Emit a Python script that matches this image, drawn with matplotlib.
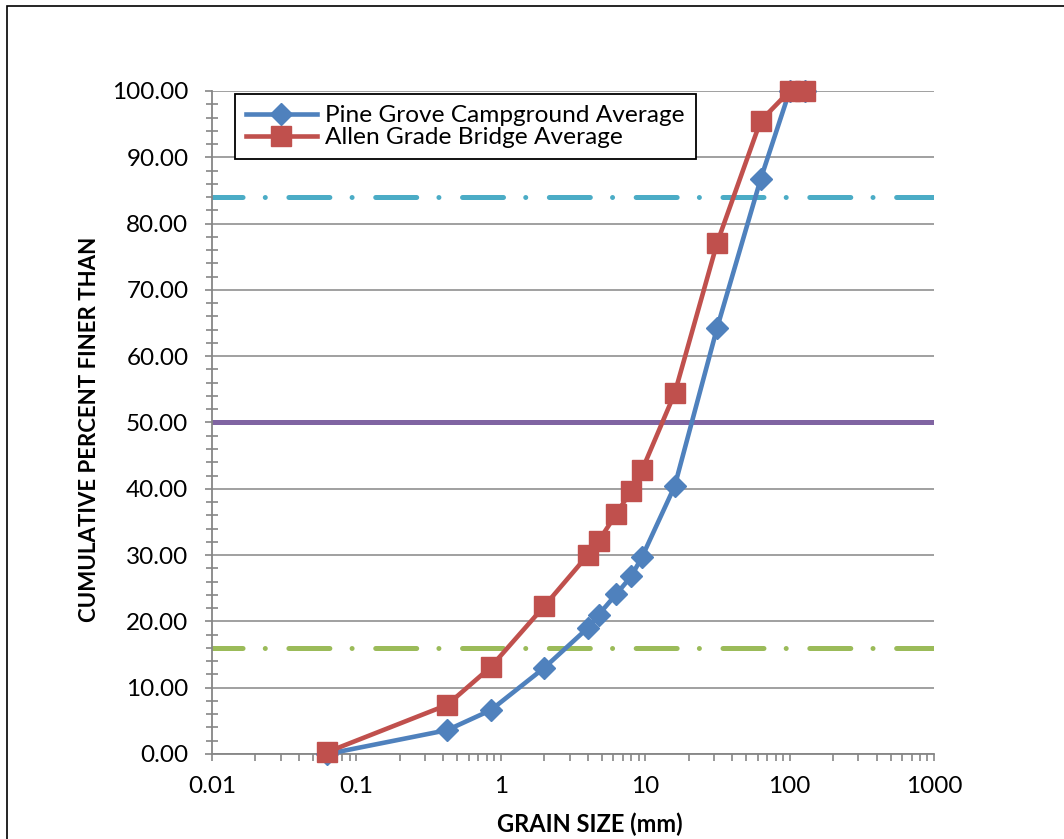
import matplotlib
matplotlib.use("Agg")
import matplotlib.pyplot as plt
from matplotlib.patches import Rectangle
from matplotlib.ticker import LogLocator, MultipleLocator

plt.rcParams['font.family'] = ['Lato', 'DejaVu Sans']
plt.rcParams['lines.scale_dashes'] = False

# sieve sizes (mm)
grain_size = [0.063, 0.425, 0.85, 2, 4, 4.75, 6.3, 8, 9.5, 16, 31.5, 63, 100, 128]
pine_grove = [0.0, 3.6, 6.6, 13.0, 19.0, 21.0, 24.1, 26.8, 29.7, 40.4, 64.3, 86.7, 100.0, 100.0]
allen_grade = [0.3, 7.4, 13.1, 22.3, 30.0, 32.1, 36.2, 39.7, 42.8, 54.4, 77.1, 95.5, 100.0, 100.0]

d84, d50, d16 = 84, 50, 16

fig = plt.figure(figsize=(10.64, 8.39), dpi=100)
ax = fig.add_axes([212 / 1064, 1 - 754 / 839, 722 / 1064, 663 / 839])

# outer chart frame
fig.add_artist(Rectangle((7 / 1064, -0.1), 1.2, 1.1 - 6 / 839, transform=fig.transFigure,
                         fill=False, edgecolor='black', linewidth=1.2))

ax.set_xscale('log')
ax.set_xlim(0.01, 1000)
ax.set_ylim(0, 100)

grid_c = '#868686'
ax.yaxis.set_major_locator(MultipleLocator(10))
ax.yaxis.set_minor_locator(MultipleLocator(2))
ax.grid(axis='y', which='major', color=grid_c, linewidth=1.1)
ax.set_axisbelow(True)

# reference lines D84 / D50 / D16
dash_dot = (7.5, (29.5, 16, 0.01, 17))
ax.axhline(d84, color='#4BACC6', linewidth=3.6, linestyle=dash_dot,
           dash_capstyle='round', zorder=2)
ax.axhline(d50, color='#8064A2', linewidth=3.6, zorder=2)
ax.axhline(d16, color='#9BBB59', linewidth=3.6, linestyle=dash_dot,
           dash_capstyle='round', zorder=2)

ax.plot(grain_size, pine_grove, color='#4F81BD', linewidth=3.3, marker='D', markersize=11,
        label='Pine Grove Campground Average', zorder=4, clip_on=False)
ax.plot(grain_size, allen_grade, color='#C0504D', linewidth=3.3, marker='s', markersize=14.5,
        label='Allen Grade Bridge Average', zorder=5, clip_on=False)

for s in ['top', 'right']:
    ax.spines[s].set_visible(False)
for s in ['left', 'bottom']:
    ax.spines[s].set_color(grid_c)
    ax.spines[s].set_linewidth(1.3)

ax.xaxis.set_minor_locator(LogLocator(base=10, subs=range(2, 10), numticks=20))
ax.set_xticks([0.01, 0.1, 1, 10, 100, 1000])
ax.set_xticklabels(['0.01', '0.1', '1', '10', '100', '1000'])
ax.set_yticks(range(0, 101, 10))
ax.set_yticklabels([f'{v:.2f}' for v in range(0, 101, 10)])

ax.tick_params(axis='both', which='both', colors=grid_c, labelcolor='black', labelsize=17.5)
ax.tick_params(axis='x', which='major', direction='out', length=5, width=1.2, pad=11)
ax.tick_params(axis='x', which='minor', direction='out', length=5, width=1.2)
ax.tick_params(axis='y', which='major', direction='out', length=5, width=1.2, pad=12)
ax.tick_params(axis='y', which='minor', direction='inout', length=9, width=1.2)

fig.text(90 / 1064, 1 - 429 / 839, 'CUMULATIVE PERCENT FINER THAN', rotation=90,
         ha='center', va='center', fontsize=16, fontweight='bold')
fig.text(590 / 1064, 1 - 824 / 839, 'GRAIN SIZE (mm)', ha='center', va='center',
         fontsize=17, fontweight='bold')

leg = ax.legend(loc='upper left', bbox_to_anchor=((235 - 212) / 722, 1 - 3 / 663),
                fontsize=17.6, frameon=True, fancybox=False, framealpha=1,
                edgecolor='black', borderpad=0.45, handlelength=2.9, handletextpad=0.35,
                labelspacing=0.05, borderaxespad=0)
leg.get_frame().set_linewidth(1.3)

fig.savefig('out.png', dpi=100)
